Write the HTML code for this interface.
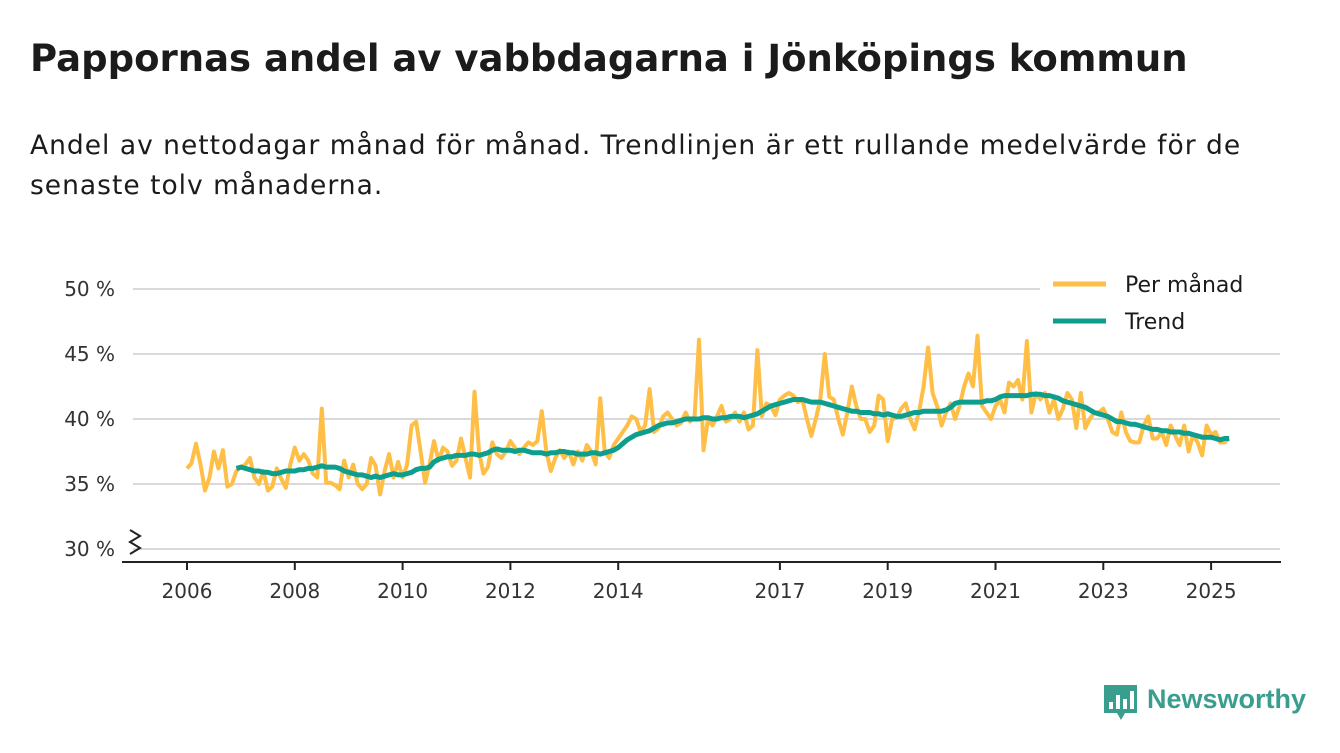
<!DOCTYPE html>
<html><head><meta charset="utf-8"><style>
body{margin:0;width:1340px;height:753px;background:#fff;font-family:"DejaVu Sans","Liberation Sans",sans-serif;color:#1b1b1b;overflow:hidden;position:relative}
h1{position:absolute;left:30px;top:37px;margin:0;font-size:37px;font-weight:bold;letter-spacing:0px}
p{position:absolute;left:30px;top:126px;margin:0;font-size:26.5px;line-height:40px;width:1270px;letter-spacing:1px}
svg{position:absolute;left:0;top:0}
</style></head><body>
<h1>Pappornas andel av vabbdagarna i Jönköpings kommun</h1>
<p>Andel av nettodagar månad för månad. Trendlinjen är ett rullande medelvärde för de senaste tolv månaderna.</p>
<svg id="chart" width="1340" height="753"></svg>
<script>
const monthly=[
36.2,36.6,38.1,36.5,34.5,35.5,37.5,36.2,37.6,34.8,35.0,36.0,
36.3,36.5,37.0,35.5,35.0,36.0,34.5,34.8,36.2,35.4,34.7,36.5,
37.8,36.8,37.3,36.8,35.8,35.5,40.8,35.1,35.1,34.9,34.6,36.8,
35.5,36.5,35.0,34.6,35.0,37.0,36.4,34.2,36.0,37.3,35.5,36.7,
35.5,36.5,39.5,39.8,37.5,35.1,36.5,38.3,36.8,37.8,37.5,36.4,
36.8,38.5,37.0,35.5,42.1,37.5,35.8,36.3,38.2,37.3,37.0,37.5,
38.3,37.8,37.3,37.8,38.2,38.0,38.3,40.6,37.5,36.0,37.0,37.6,
37.0,37.5,36.5,37.5,36.8,38.0,37.5,36.5,41.6,37.5,37.0,38.0,
38.5,39.0,39.5,40.2,40.0,39.0,39.5,42.3,39.0,39.3,40.2,40.5,
40.0,39.5,39.7,40.5,39.8,40.2,46.1,37.6,40.0,39.5,40.2,41.0,
39.8,40.0,40.5,39.8,40.5,39.2,39.5,45.3,40.2,41.2,41.0,40.3,
41.5,41.8,42.0,41.8,41.3,41.5,40.0,38.7,40.0,41.5,45.0,41.7,
41.5,40.0,38.8,40.5,42.5,41.0,40.0,40.0,39.0,39.5,41.8,41.5,
38.3,40.0,40.1,40.8,41.2,40.0,39.2,40.6,42.5,45.5,42.0,41.0,
39.5,40.5,41.2,40.0,41.0,42.5,43.5,42.5,46.4,41.0,40.5,40.0,
41.0,41.5,40.5,42.8,42.5,43.0,41.5,46.0,40.5,42.0,41.5,42.0,
40.5,41.5,40.0,40.8,42.0,41.5,39.3,42.0,39.3,40.0,40.5,40.5,
40.8,40.0,39.0,38.8,40.5,39.0,38.3,38.2,38.2,39.5,40.2,38.5,
38.5,39.0,38.0,39.5,38.7,38.0,39.5,37.5,38.8,38.2,37.2,39.5,
38.8,39.0,38.2,38.2,38.5];
const trend=[36.2,
36.3,36.2,36.1,36.0,36.0,35.9,35.9,35.8,35.8,35.9,36.0,36.0,
36.0,36.1,36.1,36.2,36.2,36.3,36.4,36.3,36.3,36.3,36.2,36.0,
35.9,35.8,35.7,35.7,35.6,35.5,35.6,35.5,35.6,35.7,35.8,35.7,
35.7,35.8,35.9,36.1,36.2,36.2,36.3,36.7,36.9,37.0,37.1,37.1,
37.2,37.2,37.2,37.3,37.3,37.2,37.3,37.4,37.6,37.7,37.6,37.6,
37.6,37.5,37.6,37.6,37.5,37.4,37.4,37.4,37.3,37.4,37.4,37.5,
37.5,37.4,37.4,37.3,37.3,37.3,37.4,37.4,37.3,37.4,37.5,37.6,
37.8,38.1,38.4,38.6,38.8,38.9,39.0,39.1,39.3,39.5,39.6,39.7,
39.7,39.8,39.9,40.0,40.0,40.0,40.0,40.1,40.1,40.0,40.0,40.1,
40.1,40.2,40.2,40.2,40.1,40.2,40.3,40.4,40.6,40.8,41.0,41.1,
41.2,41.3,41.4,41.5,41.5,41.5,41.4,41.3,41.3,41.3,41.2,41.1,
41.0,40.9,40.8,40.7,40.6,40.6,40.5,40.5,40.5,40.4,40.4,40.3,
40.4,40.3,40.2,40.2,40.3,40.4,40.5,40.5,40.6,40.6,40.6,40.6,
40.6,40.7,40.9,41.2,41.3,41.3,41.3,41.3,41.3,41.3,41.4,41.4,
41.5,41.7,41.8,41.8,41.8,41.8,41.8,41.8,41.9,41.9,41.9,41.8,
41.8,41.7,41.6,41.4,41.3,41.2,41.1,41.0,40.9,40.7,40.5,40.4,
40.3,40.2,40.0,39.8,39.8,39.7,39.6,39.6,39.5,39.4,39.3,39.2,
39.2,39.1,39.1,39.0,39.0,39.0,38.9,38.9,38.8,38.7,38.6,38.6,
38.6,38.5,38.4,38.5,38.5];
const yTicks=[30,35,40,45,50];
const xTicks=[2006,2008,2010,2012,2014,2017,2019,2021,2023,2025];
const startYear=2006, trendOffset=11;

const NS='http://www.w3.org/2000/svg';
const svg=document.getElementById('chart');
const y=v=>549-(v-30)*13;
const x=t=>187+(t-startYear)*53.9;
const xm=i=>x(startYear+i/12);
function mk(tag,attrs){const e=document.createElementNS(NS,tag);for(const k in attrs)e.setAttribute(k,attrs[k]);svg.appendChild(e);return e;}

yTicks.forEach(v=>{
  const g=mk('line',{x1:133,x2:1280,y1:y(v),y2:y(v),stroke:'#d9d9d9','stroke-width':2});
  
  
  const t=mk('text',{x:115,y:y(v)+7,'text-anchor':'end','font-size':20,fill:'#333'});
  t.textContent=v+' %';
  
  
});
const ax=mk('line',{x1:122,x2:1281,y1:562,y2:562,stroke:'#222','stroke-width':2});


const brk=mk('path',{d:'M130 530 L140 536 L130 542 L140 548 L130 554',fill:'none',stroke:'#222','stroke-width':2});


xTicks.forEach(yr=>{
  const l=mk('line',{x1:x(yr),x2:x(yr),y1:562,y2:570,stroke:'#222','stroke-width':2});
  
  
  const t=mk('text',{x:x(yr),y:598,'text-anchor':'middle','font-size':20,fill:'#333'});
  t.textContent=yr;
  
  
});
const lg=mk('rect',{x:1040,y:264,width:240,height:76,fill:'#fff'});


const pm=mk('polyline',{points:monthly.map((v,i)=>xm(i).toFixed(1)+','+y(v).toFixed(1)).join(' '),fill:'none',stroke:'#FFBE45','stroke-width':4,'stroke-linejoin':'round'});


const tr=mk('polyline',{points:trend.map((v,i)=>xm(i+trendOffset).toFixed(1)+','+y(v).toFixed(1)).join(' '),fill:'none',stroke:'#0E9E8E','stroke-width':5,'stroke-linejoin':'round'});


[['Per månad','#FFBE45',284],['Trend','#0E9E8E',321]].forEach(([n,c,yy])=>{
  const l=mk('line',{x1:1053,x2:1106,y1:yy,y2:yy,stroke:c,'stroke-width':5});
  
  
  const t=mk('text',{x:1125,y:yy+8,'font-size':22,fill:'#1b1b1b'});
  t.textContent=n;
  
  
});
</script>
<svg width="1340" height="753" style="pointer-events:none">
<path d="M1104 685 h33 v28 h-12 l-4 7 l-4 -7 h-13 z" fill="#3A9E8E"/>
<rect x="1109" y="702" width="4" height="7" fill="#fff"/><rect x="1116" y="695" width="4" height="14" fill="#fff"/><rect x="1123" y="699" width="4" height="10" fill="#fff"/><rect x="1130" y="691" width="4" height="18" fill="#fff"/>
<text x="1147" y="708" font-size="27" font-weight="bold" fill="#3A9E8E" font-family="Liberation Sans, sans-serif">Newsworthy</text>
</svg>
</body></html>
